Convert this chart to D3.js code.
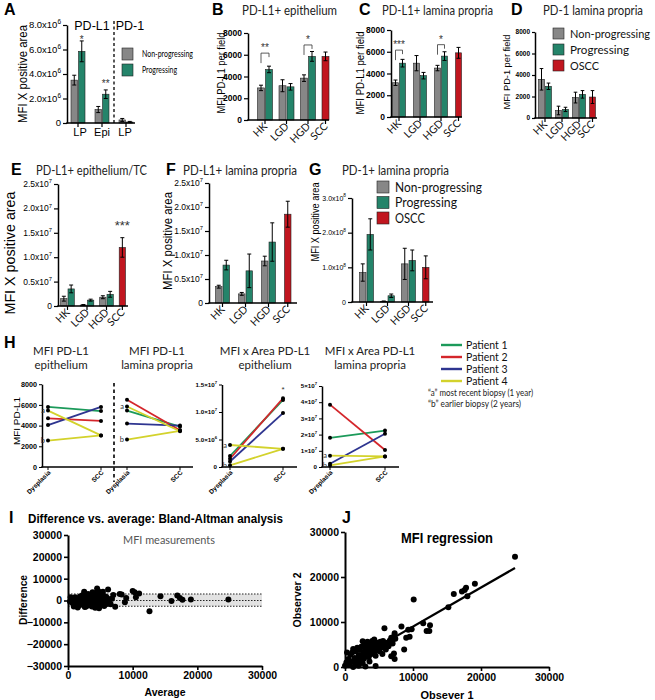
<!DOCTYPE html>
<html><head><meta charset="utf-8">
<script src="https://cdn.jsdelivr.net/npm/d3@7"></script>
<style>body{margin:0;background:#fff}svg{display:block}</style>
</head><body>
<svg id="c" width="655" height="700"></svg>
<script>
// ================= DATA =================
const groupCats = ["HK", "LGD", "HGD", "SCC"];
const legendNames = ["Non-progressing", "Progressing", "OSCC"];

// A
const aCats = ["LP", "Epi", "LP"];
const aNonProg = [3.5e6, 1.1e6, 0.25e6];
const aNonProgErr = [0.4e6, 0.25e6, 0.12e6];
const aProg = [5.85e6, 2.35e6, 0.08e6];
const aProgErr = [0.85e6, 0.35e6, 0.05e6];
const aTicks = [0, 2e6, 4e6, 6e6, 8e6];
const aStars = [{g: 0, label: "*", v: 6.55e6}, {g: 1, label: "**", v: 2.95e6}];

// B PD-L1+ epithelium
const bNonProg = [2950, 3150, 3850];
const bNonProgErr = [250, 550, 300];
const bProg = [4650, 3050, 5850];
const bProgErr = [300, 300, 450];
const bScc = [5850], bSccErr = [400];
const bTicks = [0, 2000, 4000, 6000, 8000];
const bSig = [{g: 0, label: "**", v: 6150}, {g: 2, label: "*", v: 6900}];

// C PD-L1+ lamina propria
const cNonProg = [3150, 4950, 4500];
const cNonProgErr = [250, 700, 250];
const cProg = [4950, 3800, 5600];
const cProgErr = [350, 300, 400];
const cScc = [5900], cSccErr = [500];
const cTicks = [0, 2000, 4000, 6000, 8000];
const cSig = [{g: 0, label: "***", v: 6150}, {g: 2, label: "*", v: 6650}];

// D PD-1 lamina propria
const dNonProg = [3600, 700, 1900];
const dNonProgErr = [1000, 400, 500];
const dProg = [2950, 800, 2200];
const dProgErr = [300, 200, 350];
const dScc = [1950], dSccErr = [600];
const dTicks = [0, 2000, 4000, 6000, 8000];

// E PD-L1+ epithelium/TC
const eNonProg = [0.15e7, 0.02e7, 0.18e7];
const eNonProgErr = [0.05e7, 0.01e7, 0.03e7];
const eProg = [0.35e7, 0.12e7, 0.24e7];
const eProgErr = [0.08e7, 0.02e7, 0.06e7];
const eScc = [1.2e7], eSccErr = [0.2e7];
const eTicks = [0, 0.5e7, 1.0e7, 1.5e7, 2.0e7, 2.5e7];

// F PD-L1+ lamina propria
const fNonProg = [0.34e7, 0.19e7, 0.875e7];
const fNonProgErr = [0.03e7, 0.03e7, 0.1e7];
const fProg = [0.79e7, 0.67e7, 1.27e7];
const fProgErr = [0.1e7, 0.35e7, 0.4e7];
const fScc = [1.85e7], fSccErr = [0.27e7];
const fTicks = [0, 0.5e7, 1.0e7, 1.5e7, 2.0e7, 2.5e7];

// G PD-1+ lamina propria
const gNonProg = [0.85e8, 0.02e8, 1.1e8];
const gNonProgErr = [0.25e8, 0.01e8, 0.45e8];
const gProg = [1.95e8, 0.18e8, 1.2e8];
const gProgErr = [0.45e8, 0.05e8, 0.3e8];
const gScc = [1.0e8], gSccErr = [0.33e8];
const gTicks = [0, 1e8, 2e8, 3e8];

// H paired patients
const patients = ["Patient 1", "Patient 2", "Patient 3", "Patient 4"];
const hSeriesPatient = [0, 1, 2, 3, 3];
const hSeriesTag = ["", "", "", "a", "b"];
const hStages = ["Dysplasia", "SCC"];
const hEpiDys = [5800, 4700, 4050, 5450, 2550];
const hEpiScc = [5400, 4450, 5800, 3050, 3050];
const hLpDys = [5450, 6500, 4200, 5850, 2650];
const hLpScc = [3900, 3550, 4000, 3450, 3500];
const hAreaEpiDys = [2.0e6, 1.5e6, 1.0e6, 4.0e6, 0.3e6];
const hAreaEpiScc = [1.22e7, 1.25e7, 0.98e7, 3.3e6, 3.3e6];
const hAreaLpDys = [1.8e7, 3.85e7, 0.2e7, 0.7e7, 0.1e7];
const hAreaLpScc = [2.25e7, 1.05e7, 2.05e7, 0.65e7, 0.65e7];
const hMfiTicks = [0, 2000, 4000, 6000, 8000];
const hAreaEpiTicks = [0, 5e6, 1e7, 1.5e7];
const hAreaLpTicks = [0, 1e7, 2e7, 3e7, 4e7, 5e7];

// I Bland-Altman (average, difference)
const baPoints = [
 [300,-500],[500,800],[700,-1200],[800,300],[1000,-2000],[1100,1500],[1200,-300],[1300,600],[1400,-1500],[1500,1000],
 [1600,-2500],[1700,200],[1800,-800],[1900,1800],[2000,-1200],[2100,500],[2200,-2000],[2300,2500],[2400,-300],[2500,4000],
 [2600,1200],[2700,-1500],[2800,-2700],[2900,800],[3000,-600],[3100,1700],[3200,-2200],[3300,300],[3400,2200],[3500,-1000],
 [3600,1000],[3700,-2800],[3800,-200],[3900,2800],[4000,-1800],[4100,600],[4200,-3300],[4300,1500],[4400,-700],[4500,5500],
 [4500,3000],[4600,-2500],[4700,4200],[4800,1000],[4900,-1500],[5000,2500],[5100,-500],[5200,3500],[5300,-2000],[5400,1800],
 [5500,-1000],[5600,300],[5700,2000],[5800,-300],[6000,1200],[6200,5000],[6300,-800],[6500,600],[7000,2500],[7300,-2900],
 [8000,3000],[8300,2800],[8800,-800],[9000,1200],[10000,4300],[10300,3800],[10500,1500],[11000,3200],[12600,-4900],[14300,1900],
 [16000,-200],[16900,2300],[17300,1100],[17700,400],[19000,500],[24800,500],
 [900,-2800],[1500,-3200],[2000,2000],[2600,-3000],[3100,3000],[3500,400],[3800,3800],[4200,2200],[4400,-2900],[4800,-3500],
 [5000,-1000],[5200,500],[5600,-2500],[5900,1600],[6100,-1500],[6600,-1700],[400,1500],[600,-300],[1300,-1000],[2200,1000],
 [2800,1500],[3300,-1300],[3700,1200],[4600,3800],[5400,4000],[6800,800],[1000,300],[2500,-800],[3900,-600],[4700,200]
];
const baUpper = 3000, baLower = -2600, baBias = 0;
const baTicksY = [-30000, -20000, -10000, 0, 10000, 20000, 30000];
const baTicksX = [0, 10000, 20000, 30000];

// J regression (observer 1, observer 2)
const regPoints = [
 [25000,24500],[19100,18500],[17800,17600],[17600,17100],[18000,15700],[17200,16800],[16000,16200],[15200,13300],[10100,15000],[12500,9300],
 [11500,9700],[12000,8000],[12400,8000],[8300,9000],[9800,8400],[9300,8300],[9500,6700],[9000,6500],[5800,8600],[7300,7500],
 [7000,6000],[8700,3900],[7200,3000],[7300,1800],[6800,2400],[4500,200],
 [0,300],[200,1000],[300,3200],[500,1800],[600,500],[800,2700],[1000,1200],[1100,3300],[1200,0],[1400,2000],
 [1500,800],[1600,3500],[1700,1500],[1800,4300],[2000,2600],[2100,700],[2200,3800],[2300,1500],[2400,4500],[2500,2400],
 [2600,5700],[2700,3300],[2800,1900],[2900,5000],[3000,3700],[3100,4200],[3200,2600],[3300,5600],[3400,3200],[3500,4600],
 [3600,1200],[3700,5200],[3800,3900],[3900,2900],[4000,5800],[4100,4400],[4200,3400],[4300,6100],[4400,4900],[4600,3700],
 [4700,5400],[4800,4300],[5000,5000],[5100,3500],[5200,5600],[5400,4400],[5600,5800],[5800,4800],[6000,3900],[6200,5400],
 [6400,4600],[6600,5900],[6800,6500],[7000,5200],[7200,6800],[7400,6300],[2000,300],[2600,900],[3000,100],[3500,2200],
 [1200,4000],[4500,2500],[5500,2900]
];
const regLineX = [0, 25000];
const regLineY = [300, 22000];
const regTicks = [0, 10000, 20000, 30000];

// ================= DRAWING =================
const svg = d3.select("#c");
const FT = "Lato, 'Open Sans', sans-serif";
const FA = "'Liberation Sans', Arial, sans-serif";
const FN = "'Liberation Sans Narrow', 'Liberation Sans', Arial, sans-serif";
const COL = {np: "#878787", p: "#24846a", scc: "#c1161f"};
const HCOL = ["#1c9a5a", "#d4262b", "#2e3590", "#d3d22c"];

function txt(g, x, y, s, o = {}) {
  const t = g.append("text").attr("x", x).attr("y", y).text(s)
    .attr("font-family", o.ff || FA).attr("font-size", o.fs || 10)
    .attr("text-anchor", o.anchor || "start").attr("fill", o.fill || "#000");
  if (o.fw) t.attr("font-weight", o.fw);
  if (o.len) t.attr("textLength", o.len).attr("lengthAdjust", "spacingAndGlyphs");
  if (o.rot != null) t.attr("transform", `rotate(${o.rot},${x},${y})`);
  return t;
}
function sciText(g, x, y, v, o) {
  const t = g.append("text").attr("x", x).attr("y", y).attr("text-anchor", "end")
    .attr("font-family", o.ff || FN).attr("font-size", o.fs).attr("fill", "#000");
  if (o.fw) t.attr("font-weight", o.fw);
  if (v === 0) { t.text("0"); return t; }
  const exp = o.exp != null ? o.exp : Math.floor(Math.log10(v) + 1e-9);
  const mant = (v / Math.pow(10, exp)).toFixed(o.digits);
  t.append("tspan").text(mant + (o.sep || "x") + "10");
  t.append("tspan").attr("dy", -o.fs * 0.45).attr("font-size", o.fs * 0.68).text(exp);
  return t;
}
function letter(x, y, s) { txt(svg, x, y, s, {fs: 16, fw: "bold"}); }

function barPanel(c) {
  const g = svg.append("g");
  const n = c.cats.length;
  const y = d3.scaleLinear().domain([0, c.max]).range([c.baseY, c.topY]);
  const x = d3.scaleBand().domain(d3.range(n)).range([c.c0 - c.step / 2, c.c0 - c.step / 2 + c.step * n]);
  const inner = d3.scaleBand().domain(["np", "p"]).range([-c.bw - 0.5, c.bw + 0.5]).paddingInner(1 / (c.bw + 1));
  const rows = [];
  c.np.forEach((v, i) => rows.push({i, k: "np", v, e: c.npErr[i], col: COL.np}));
  c.p.forEach((v, i) => rows.push({i, k: "p", v, e: c.pErr[i], col: COL.p}));
  if (c.scc) c.scc.forEach((v, j) => rows.push({i: c.np.length + j, k: "np", v, e: c.sccErr[j], col: COL.scc}));
  const gc = i => x(i) + x.bandwidth() / 2;
  const bc = d => gc(d.i) + inner(d.k) + inner.bandwidth() / 2;
  g.selectAll("rect.bar").data(rows).join("rect")
    .attr("x", d => gc(d.i) + inner(d.k)).attr("width", inner.bandwidth())
    .attr("y", d => y(d.v)).attr("height", d => c.baseY - y(d.v))
    .attr("fill", d => d.col).attr("stroke", "#222").attr("stroke-width", 0.6);
  const cw = c.cap || 2;
  g.selectAll("line.eb").data(rows).join("line")
    .attr("x1", bc).attr("x2", bc).attr("y1", d => y(Math.max(0, d.v - d.e))).attr("y2", d => y(d.v + d.e))
    .attr("stroke", "#000").attr("stroke-width", 1);
  ["hi", "lo"].forEach(w => {
    g.selectAll("line.cap" + w).data(rows).join("line")
      .attr("x1", d => bc(d) - cw).attr("x2", d => bc(d) + cw)
      .attr("y1", d => y(w === "hi" ? d.v + d.e : Math.max(0, d.v - d.e)))
      .attr("y2", d => y(w === "hi" ? d.v + d.e : Math.max(0, d.v - d.e)))
      .attr("stroke", "#000").attr("stroke-width", 1);
  });
  const ax = g.append("g").attr("transform", `translate(${c.axisX},0)`)
    .call(d3.axisLeft(y).tickValues(c.ticks).tickSize(c.tickLen || 4).tickSizeOuter(0).tickFormat(""));
  ax.select(".domain").attr("stroke-width", 1.5);
  ax.selectAll(".tick line").attr("stroke-width", 1.2);
  c.ticks.forEach(t => {
    const ty = y(t) + c.tickFs * 0.36;
    const tx = c.axisX - (c.tickLen || 4) - 2;
    if (c.sci) sciText(g, tx, ty, t, {fs: c.tickFs, exp: c.sci.exp, digits: c.sci.digits, ff: FN});
    else txt(g, tx, ty, d3.format("d")(t), {fs: c.tickFs, fw: "bold", anchor: "end"});
  });
  g.append("line").attr("x1", c.axisX - 0.75).attr("x2", c.endX).attr("y1", c.baseY).attr("y2", c.baseY)
    .attr("stroke", "#000").attr("stroke-width", 1.5);
  const tickXs = d3.range(n).map(i => i < c.np.length ? gc(i) : gc(i) + inner("np") + inner.bandwidth() / 2);
  tickXs.forEach((tx, i) => {
    g.append("line").attr("x1", tx).attr("x2", tx).attr("y1", c.baseY).attr("y2", c.baseY + 4)
      .attr("stroke", "#000").attr("stroke-width", 1.2);
    if (c.flat) txt(g, tx + (c.flatDx ? c.flatDx[i] : 0), c.baseY + 13, c.cats[i], {fs: 11, anchor: "middle", ff: FA});
    else txt(g, tx + 3, c.baseY + 7, c.cats[i], {fs: c.catFs || 10.5, anchor: "end", ff: FT, rot: -45, fill: "#111"});
  });
  (c.sig || []).forEach(s => {
    const x1 = gc(s.g) + inner("np") + inner.bandwidth() / 2, x2 = gc(s.g) + inner("p") + inner.bandwidth() / 2;
    const yt = y(s.v);
    g.append("path").attr("d", `M${x1},${yt + 10}V${yt}H${x2}V${yt + 4}`)
      .attr("fill", "none").attr("stroke", "#333").attr("stroke-width", 0.8);
    txt(g, (x1 + x2) / 2, yt - 2, s.label, {fs: 10, anchor: "middle", fill: "#333"});
  });
  (c.stars || []).forEach(s => {
    const sx = s.g < c.np.length ? gc(s.g) + inner("p") + inner.bandwidth() / 2 : gc(s.g) + inner("np") + inner.bandwidth() / 2;
    txt(g, sx, y(s.v) + (s.dy || 0), s.label, {fs: s.fs || 10, anchor: "middle", fill: "#333"});
  });
  return {g, x, y};
}

function legendBox(x0, y0, gap, size, names, fs, lens) {
  const cols = [COL.np, COL.p, COL.scc];
  names.forEach((nm, i) => {
    svg.append("rect").attr("x", x0).attr("y", y0 + i * gap).attr("width", size).attr("height", size)
      .attr("fill", cols[i]).attr("stroke", "#222").attr("stroke-width", 0.6);
    txt(svg, x0 + size + 6, y0 + i * gap + size / 2 + fs * 0.36, nm, {fs, ff: FT, len: lens[i], fill: "#111"});
  });
}

// ---------- A ----------
letter(4, 15, "A");
barPanel({cats: aCats, np: aNonProg, npErr: aNonProgErr, p: aProg, pErr: aProgErr,
  axisX: 67, baseY: 123, topY: 25, max: 8e6, ticks: aTicks, c0: 78, step: 24, bw: 6.5, endX: 135,
  tickFs: 9.5, sci: {exp: 6, digits: 1}, flat: true, flatDx: [2, 0, -1], stars: aStars});
txt(svg, 92, 30, "PD-L1", {fs: 12.5, anchor: "middle", ff: FA});
txt(svg, 130, 30, "PD-1", {fs: 12.5, anchor: "middle", ff: FA});
svg.append("line").attr("x1", 114).attr("x2", 114).attr("y1", 21).attr("y2", 123)
  .attr("stroke", "#000").attr("stroke-width", 1.3).attr("stroke-dasharray", "3,2.5");
svg.append("rect").attr("x", 122).attr("y", 48).attr("width", 11).attr("height", 12).attr("fill", COL.np).attr("stroke", "#222").attr("stroke-width", 0.6);
svg.append("rect").attr("x", 122).attr("y", 64).attr("width", 11).attr("height", 12).attr("fill", COL.p).attr("stroke", "#222").attr("stroke-width", 0.6);
txt(svg, 142, 57, legendNames[0], {fs: 9, ff: FT, len: 51});
txt(svg, 142, 73, legendNames[1], {fs: 9, ff: FT, len: 35});
txt(svg, 27, 74, "MFI X positive area", {fs: 13, anchor: "middle", rot: -90, len: 98});

// ---------- B ----------
letter(212, 15, "B");
txt(svg, 242, 15, "PD-L1+ epithelium", {fs: 12.5, ff: FT, len: 95, fill: "#222"});
barPanel({cats: groupCats, np: bNonProg, npErr: bNonProgErr, p: bProg, pErr: bProgErr, scc: bScc, sccErr: bSccErr,
  axisX: 248, baseY: 120, topY: 33, max: 8000, ticks: bTicks, c0: 265, step: 21.5, bw: 7, endX: 329, tickFs: 8.5, sig: bSig});
txt(svg, 225, 73, "MFI PD-L1 per field", {fs: 10.5, anchor: "middle", rot: -90, len: 81});

// ---------- C ----------
letter(359, 15, "C");
txt(svg, 382, 15, "PD-L1+ lamina propria", {fs: 12.5, ff: FT, len: 111, fill: "#222"});
barPanel({cats: groupCats, np: cNonProg, npErr: cNonProgErr, p: cProg, pErr: cProgErr, scc: cScc, sccErr: cSccErr,
  axisX: 391, baseY: 117, topY: 30, max: 8000, ticks: cTicks, c0: 399, step: 21, bw: 6, endX: 462, tickFs: 8.5, sig: cSig});
txt(svg, 364, 73, "MFI PD-L1 per field", {fs: 10.5, anchor: "middle", rot: -90, len: 83});

// ---------- D ----------
letter(511, 15, "D");
txt(svg, 543, 15, "PD-1 lamina propria", {fs: 12.5, ff: FT, len: 100, fill: "#222"});
barPanel({cats: groupCats, np: dNonProg, npErr: dNonProgErr, p: dProg, pErr: dProgErr, scc: dScc, sccErr: dSccErr,
  axisX: 535, baseY: 118, topY: 32, max: 8000, ticks: dTicks, c0: 545, step: 17, bw: 6, endX: 597, tickFs: 6.5, tickLen: 3, cap: 1.8});
txt(svg, 509.5, 72, "MFI PD-1 per field", {fs: 9.5, anchor: "middle", rot: -90, len: 75});
legendBox(553, 28, 16, 11, legendNames, 11.5, [80, 59, 29]);

// ---------- E ----------
letter(11, 175, "E");
txt(svg, 36, 175, "PD-L1+ epithelium/TC", {fs: 12.5, ff: FT, len: 111, fill: "#222"});
barPanel({cats: groupCats, np: eNonProg, npErr: eNonProgErr, p: eProg, pErr: eProgErr, scc: eScc, sccErr: eSccErr,
  axisX: 58, baseY: 306, topY: 184, max: 2.5e7, ticks: eTicks, c0: 67.5, step: 19.5, bw: 6.3, endX: 128, tickFs: 8.5,
  sci: {exp: 7, digits: 1}, stars: [{g: 3, label: "***", v: 1.55e7, fs: 13}]});
txt(svg, 15, 253, "MFI X positive area", {fs: 14, anchor: "middle", rot: -90, len: 123});

// ---------- F ----------
letter(166, 175, "F");
txt(svg, 183, 175, "PD-L1+ lamina propria", {fs: 12.5, ff: FT, len: 114, fill: "#222"});
barPanel({cats: groupCats, np: fNonProg, npErr: fNonProgErr, p: fProg, pErr: fProgErr, scc: fScc, sccErr: fSccErr,
  axisX: 209, baseY: 303, topY: 183, max: 2.5e7, ticks: fTicks, c0: 222.5, step: 23, bw: 6.5, endX: 297, tickFs: 8.5,
  sci: {exp: 7, digits: 1}});
txt(svg, 172, 241, "MFI X positive area", {fs: 12, anchor: "middle", rot: -90, len: 98});

// ---------- G ----------
letter(309, 175, "G");
txt(svg, 342, 175, "PD-1+ lamina propria", {fs: 12.5, ff: FT, len: 107, fill: "#222"});
barPanel({cats: groupCats, np: gNonProg, npErr: gNonProgErr, p: gProg, pErr: gProgErr, scc: gScc, sccErr: gSccErr,
  axisX: 352, baseY: 302, topY: 198, max: 3e8, ticks: gTicks, c0: 366.5, step: 21, bw: 6.5, endX: 433, tickFs: 7,
  sci: {exp: 8, digits: 1}});
txt(svg, 319, 222, "MFI X positive area", {fs: 11, anchor: "middle", rot: -90, len: 79});
legendBox(377, 181, 15.5, 12, legendNames, 13, [87, 62, 30]);

// ---------- H ----------
letter(4, 348, "H");
[["MFI PD-L1", "epithelium", 61], ["MFI PD-L1", "lamina propria", 157],
 ["MFI x Area PD-L1", "epithelium", 265], ["MFI x Area PD-L1", "lamina propria", 370]].forEach(t => {
  txt(svg, t[2], 355, t[0], {fs: 11.5, ff: FT, anchor: "middle", fill: "#222"});
  txt(svg, t[2], 369, t[1], {fs: 11.5, ff: FT, anchor: "middle", fill: "#222"});
});

function hAxis(axisX, baseY, y, ticks, labelFn) {
  const ax = svg.append("g").attr("transform", `translate(${axisX},0)`)
    .call(d3.axisLeft(y).tickValues(ticks).tickSize(3).tickSizeOuter(0).tickFormat(""));
  ax.select(".domain").attr("stroke-width", 1.5);
  ticks.forEach(t => labelFn(axisX - 5, y(t), t));
}
function hSeries(x, y, dys, scc, stageKeys) {
  const g = svg.append("g");
  const rows = dys.map((d, i) => ({d, s: scc[i], p: hSeriesPatient[i], tag: hSeriesTag[i]}));
  const line = d3.line().x(d => x(d[0])).y(d => y(d[1]));
  g.selectAll("path.hl").data(rows).join("path")
    .attr("d", r => line([[stageKeys[0], r.d], [stageKeys[1], r.s]]))
    .attr("stroke", r => HCOL[r.p]).attr("stroke-width", 1.8).attr("fill", "none");
  const pts = [];
  rows.forEach(r => { pts.push([stageKeys[0], r.d]); pts.push([stageKeys[1], r.s]); });
  g.selectAll("circle.hp").data(pts).join("circle")
    .attr("cx", d => x(d[0])).attr("cy", d => y(d[1])).attr("r", 2).attr("fill", "#000");
  rows.filter(r => r.tag).forEach(r => {
    txt(g, x(stageKeys[0]) - 3, y(r.d) + 2.5, r.tag, {fs: 7.5, ff: FT, anchor: "end", fill: "#333"});
  });
}
function hXLabels(x, keys, baseY) {
  keys.forEach((k, i) => {
    const tx = x(k);
    svg.append("line").attr("x1", tx).attr("x2", tx).attr("y1", baseY).attr("y2", baseY + 3).attr("stroke", "#000").attr("stroke-width", 1);
    txt(svg, tx + 3, baseY + 6, hStages[i], {fs: 6.5, fw: "bold", anchor: "end", rot: -45});
  });
}
const hBase = 467;
const yMfi = d3.scaleLinear().domain([0, 8000]).range([hBase, hBase - 82.8]);
hAxis(42, hBase, yMfi, hMfiTicks, (x, y, t) => txt(svg, x, y + 2.6, d3.format("d")(t), {fs: 7.2, fw: "bold", anchor: "end"}));
svg.append("line").attr("x1", 41.25).attr("x2", 193).attr("y1", hBase).attr("y2", hBase).attr("stroke", "#000").attr("stroke-width", 1.5);
const xH1 = d3.scalePoint().domain(["D1", "S1"]).range([48, 101]);
const xH2 = d3.scalePoint().domain(["D2", "S2"]).range([127, 180]);
hSeries(xH1, yMfi, hEpiDys, hEpiScc, ["D1", "S1"]);
hSeries(xH2, yMfi, hLpDys, hLpScc, ["D2", "S2"]);
hXLabels(xH1, ["D1", "S1"], hBase);
hXLabels(xH2, ["D2", "S2"], hBase);
svg.append("line").attr("x1", 114).attr("x2", 114).attr("y1", 383).attr("y2", 482)
  .attr("stroke", "#000").attr("stroke-width", 1.6).attr("stroke-dasharray", "3.5,3");
txt(svg, 20, 421, "MFI PD-L1", {fs: 9, anchor: "middle", rot: -90, len: 48});
const yAE = d3.scaleLinear().domain([0, 1.5e7]).range([hBase, hBase - 82.5]);
hAxis(222, hBase, yAE, hAreaEpiTicks, (x, y, t) => sciText(svg, x, y + 2.2, t, {fs: 6.2, digits: 1, sep: "×", ff: FA, fw: "bold"}));
svg.append("line").attr("x1", 221.25).attr("x2", 297).attr("y1", hBase).attr("y2", hBase).attr("stroke", "#000").attr("stroke-width", 1.5);
const xH3 = d3.scalePoint().domain(["D3", "S3"]).range([230, 283]);
hSeries(xH3, yAE, hAreaEpiDys, hAreaEpiScc, ["D3", "S3"]);
hXLabels(xH3, ["D3", "S3"], hBase);
txt(svg, 283, 392, "*", {fs: 8, anchor: "middle", fill: "#333"});
const yAL = d3.scaleLinear().domain([0, 5e7]).range([hBase, hBase - 81]);
hAxis(322, hBase, yAL, hAreaLpTicks, (x, y, t) => sciText(svg, x, y + 2.2, t, {fs: 6.2, digits: 0, sep: "×", ff: FA, fw: "bold"}));
svg.append("line").attr("x1", 321.25).attr("x2", 399).attr("y1", hBase).attr("y2", hBase).attr("stroke", "#000").attr("stroke-width", 1.5);
const xH4 = d3.scalePoint().domain(["D4", "S4"]).range([330, 385]);
hSeries(xH4, yAL, hAreaLpDys, hAreaLpScc, ["D4", "S4"]);
hXLabels(xH4, ["D4", "S4"], hBase);
patients.forEach((p, i) => {
  const ly = 345 + i * 12;
  svg.append("line").attr("x1", 441).attr("x2", 462).attr("y1", ly).attr("y2", ly).attr("stroke", HCOL[i]).attr("stroke-width", 2.4);
  txt(svg, 466, ly + 3.8, p, {fs: 10.5, ff: FT, fill: "#111"});
});
txt(svg, 428, 396, "\u201Ca\u201D most recent biopsy (1 year)", {fs: 8.5, ff: FT, len: 105, fill: "#222"});
txt(svg, 428, 406.5, "\u201Cb\u201D earlier biopsy (2 years)", {fs: 8.5, ff: FT, len: 93, fill: "#222"});

// ---------- I ----------
letter(9, 523, "I");
txt(svg, 28, 523, "Difference vs. average: Bland-Altman analysis", {fs: 13, fw: "bold", len: 255});
txt(svg, 169, 544, "MFI measurements", {fs: 10.5, ff: FT, anchor: "middle", fill: "#555", len: 92});
const xI = d3.scaleLinear().domain([0, 30000]).range([68, 262]);
const yI = d3.scaleLinear().domain([-30000, 30000]).range([666, 535]);
svg.append("rect").attr("x", xI(0)).attr("width", xI(30000) - xI(0)).attr("y", yI(baUpper)).attr("height", yI(baLower) - yI(baUpper)).attr("fill", "#e2e2e2");
[baUpper, baBias, baLower].forEach(v => {
  svg.append("line").attr("x1", xI(0)).attr("x2", xI(30000)).attr("y1", yI(v)).attr("y2", yI(v))
    .attr("stroke", "#222").attr("stroke-width", 1.1).attr("stroke-dasharray", "1.5,1.5");
});
svg.append("g").selectAll("circle").data(baPoints).join("circle")
  .attr("cx", d => xI(d[0])).attr("cy", d => yI(d[1])).attr("r", 3).attr("fill", "#000");
function styleAxis(sel, fs) {
  sel.select(".domain").attr("stroke-width", 2);
  sel.selectAll(".tick line").attr("stroke-width", 1.6);
  sel.selectAll(".tick text").attr("font-family", FA).attr("font-weight", "bold").attr("font-size", fs).attr("fill", "#000");
}
const axIy = svg.append("g").attr("transform", "translate(68,0)")
  .call(d3.axisLeft(yI).tickValues(baTicksY).tickSize(4).tickSizeOuter(0).tickFormat(d3.format("d")).tickPadding(2));
styleAxis(axIy, 10.5);
const axIx = svg.append("g").attr("transform", "translate(0,666)")
  .call(d3.axisBottom(xI).tickValues(baTicksX).tickSize(4).tickSizeOuter(0).tickFormat(d3.format("d")).tickPadding(2));
styleAxis(axIx, 10.5);
txt(svg, 27, 600, "Difference", {fs: 11, fw: "bold", anchor: "middle", rot: -90, len: 50});
txt(svg, 165, 696, "Average", {fs: 11, fw: "bold", anchor: "middle", len: 41});

// ---------- J ----------
letter(342, 523, "J");
txt(svg, 447, 543, "MFI regression", {fs: 14, fw: "bold", anchor: "middle", len: 92});
const xJ = d3.scaleLinear().domain([0, 30000]).range([345, 549]);
const yJ = d3.scaleLinear().domain([0, 30000]).range([667, 532]);
svg.append("g").selectAll("circle").data(regPoints).join("circle")
  .attr("cx", d => xJ(d[0])).attr("cy", d => yJ(d[1])).attr("r", 3).attr("fill", "#000");
svg.append("path").attr("d", d3.line().x(d => xJ(d[0])).y(d => yJ(d[1]))(regLineX.map((v, i) => [v, regLineY[i]])))
  .attr("stroke", "#000").attr("stroke-width", 2.2).attr("fill", "none");
const axJy = svg.append("g").attr("transform", "translate(345,0)")
  .call(d3.axisLeft(yJ).tickValues(regTicks).tickSize(4).tickSizeOuter(0).tickFormat(d3.format("d")).tickPadding(2));
styleAxis(axJy, 10.5);
const axJx = svg.append("g").attr("transform", "translate(0,667)")
  .call(d3.axisBottom(xJ).tickValues(regTicks).tickSize(4).tickSizeOuter(0).tickFormat(d3.format("d")).tickPadding(3));
styleAxis(axJx, 10.5);
txt(svg, 301, 600, "Observer 2", {fs: 11, fw: "bold", anchor: "middle", rot: -90, len: 55});
txt(svg, 447, 699, "Obsever 1", {fs: 11.5, fw: "bold", anchor: "middle", len: 53});
</script>
</body></html>
